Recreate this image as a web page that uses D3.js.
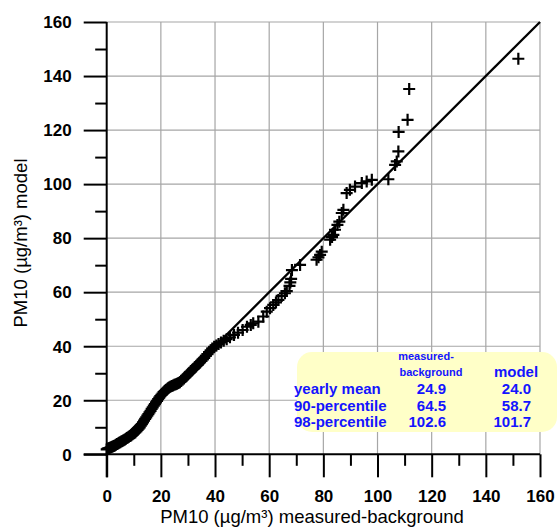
<!DOCTYPE html>
<html>
<head>
<meta charset="utf-8">
<script src="https://cdn.jsdelivr.net/npm/d3@7"></script>
<style>
  html, body { margin: 0; padding: 0; background: #ffffff; }
  svg { display: block; }
</style>
</head>
<body>
<svg id="chart" width="558" height="527"></svg>
<script>
// Quantile pairs: sorted measured-minus-background vs sorted model PM10 (µg/m³)
const measured = [
  0.0, 0.3, 0.6, 1.0, 1.4, 1.8, 2.2, 2.6, 3.0, 3.4,
  3.8, 4.2, 4.6, 5.0, 5.4, 5.8, 6.2, 6.6, 7.0, 7.4,
  7.8, 8.2, 8.6, 9.0, 9.4, 9.8, 10.2, 10.6, 11.0, 11.4,
  11.8, 12.2, 12.6, 13.0, 13.4, 13.8, 14.2, 14.6, 15.0, 15.4,
  15.8, 16.2, 16.6, 17.0, 17.4, 17.8, 18.2, 18.6, 19.0, 19.4,
  19.8, 20.2, 20.6, 21.0, 21.4, 21.8, 22.2, 22.6, 23.0, 23.5,
  24.0, 24.5, 25.0, 25.5, 26.0, 26.5, 27.0, 27.5, 28.0, 28.5,
  29.0, 29.5, 30.0, 30.5, 31.0, 31.5, 32.0, 32.5, 33.0, 33.5,
  34.0, 34.5, 35.0, 35.5, 36.0, 36.6, 37.2, 37.8, 38.4, 39.0,
  39.7, 40.5, 41.3, 42.2, 43.2, 44.3, 45.5, 47.0, 48.5, 50.2,
  51.8, 53.2, 54.1, 56.0, 57.8, 59.1, 60.3, 61.5, 62.5, 63.4,
  64.6, 65.8, 66.5, 67.5, 67.8, 68.1, 68.4, 71.4, 77.5, 78.2,
  78.8, 79.4, 82.5, 83.2, 83.7, 84.3, 85.2, 85.9, 86.8, 87.4,
  88.6, 89.8, 91.7, 94.2, 96.0, 97.9, 104.0, 106.5, 107.1, 107.7,
  107.8, 111.1, 111.7, 152.0
];
const model = [
  1.8, 2.0, 2.2, 2.3, 2.5, 2.7, 2.9, 3.1, 3.3, 3.5,
  3.8, 4.0, 4.3, 4.5, 4.7, 4.9, 5.2, 5.4, 5.7, 6.0,
  6.2, 6.5, 6.8, 7.0, 7.3, 7.6, 7.9, 8.2, 8.6, 9.0,
  9.5, 10.0, 10.6, 11.2, 11.8, 12.5, 13.1, 13.7, 14.3, 14.9,
  15.5, 16.1, 16.8, 17.4, 18.0, 18.6, 19.2, 19.8, 20.4, 21.0,
  21.5, 22.0, 22.5, 23.0, 23.4, 23.8, 24.1, 24.4, 24.7, 25.0,
  25.3, 25.5, 25.7, 25.9, 26.1, 26.4, 26.7, 27.1, 27.6, 28.1,
  28.6, 29.1, 29.6, 30.1, 30.6, 31.1, 31.6, 32.1, 32.6, 33.1,
  33.6, 34.1, 34.6, 35.1, 35.7, 36.4, 37.1, 37.8, 38.5, 39.2,
  39.8, 40.3, 40.8, 41.4, 42.0, 42.6, 43.3, 44.2, 45.0, 46.0,
  47.2, 47.9, 48.5, 49.1, 51.0, 52.8, 54.1, 55.3, 56.2, 57.1,
  58.6, 59.6, 60.4, 62.3, 63.6, 64.9, 68.2, 70.1, 72.0, 72.9,
  73.8, 75.0, 79.4, 80.4, 81.2, 83.1, 84.9, 86.1, 89.3, 90.5,
  96.7, 97.9, 99.1, 100.4, 101.0, 101.6, 101.8, 107.1, 108.4, 112.1,
  119.3, 123.8, 135.2, 146.4
];

// 1:1 reference line end points
const identityLine = [0, 160];

// Axis ticks
const majorTicks = [0, 20, 40, 60, 80, 100, 120, 140, 160];
const minorTicks = [10, 30, 50, 70, 90, 110, 130, 150];

// Summary statistics table
const statRows = ["yearly mean", "90-percentile", "98-percentile"];
const statMeasured = [24.9, 64.5, 102.6];
const statModel = [24.0, 58.7, 101.7];

const FONT = "'Liberation Sans', Arial, Helvetica, sans-serif";
const svg = d3.select("#chart");

const x = d3.scaleLinear().domain([0, 160]).range([106.7, 540]);
const y = d3.scaleLinear().domain([0, 160]).range([454.3, 22]);

const MAJOR = 23, MINOR = 11.5;

// Grid
const grid = svg.append("g").attr("stroke", "#a6a6a6").attr("stroke-width", 1.2);
grid.selectAll("line.gx").data(majorTicks.filter(d => d > 0)).join("line")
  .attr("class", "gx")
  .attr("x1", d => x(d)).attr("x2", d => x(d))
  .attr("y1", y(0)).attr("y2", y(160));
grid.selectAll("line.gy").data(majorTicks.filter(d => d > 0)).join("line")
  .attr("class", "gy")
  .attr("x1", x(0)).attr("x2", x(160))
  .attr("y1", d => y(d)).attr("y2", d => y(d));

function styleAxis(g) {
  g.select(".domain").remove();
  g.selectAll(".tick line").attr("stroke", "#000").attr("stroke-width", 2);
  g.selectAll(".tick text").attr("font-family", FONT).attr("font-size", 17)
    .attr("font-weight", "bold").attr("fill", "#000");
}

// X axis (major ticks with labels, then minor ticks)
const xAxis = svg.append("g").attr("transform", `translate(0,${y(0)})`)
  .call(d3.axisBottom(x).tickValues(majorTicks).tickSizeInner(MAJOR).tickSizeOuter(0)
    .tickPadding(13).tickFormat(d3.format("d")));
styleAxis(xAxis);
xAxis.selectAll(".tick line").attr("y2", MAJOR);
xAxis.selectAll(".tick text").attr("y", MAJOR + 13).attr("dy", "0.71em");

const xMinor = svg.append("g").attr("transform", `translate(0,${y(0)})`)
  .call(d3.axisBottom(x).tickValues(minorTicks).tickSizeInner(MINOR).tickSizeOuter(0).tickFormat(""));
styleAxis(xMinor);
xMinor.selectAll(".tick line").attr("y2", MINOR);

// Y axis
const yAxis = svg.append("g").attr("transform", `translate(${x(0)},0)`)
  .call(d3.axisLeft(y).tickValues(majorTicks).tickSizeInner(MAJOR).tickSizeOuter(0)
    .tickPadding(12).tickFormat(d3.format("d")));
styleAxis(yAxis);
yAxis.selectAll(".tick line").attr("x2", -MAJOR);
yAxis.selectAll(".tick text").attr("x", -35).attr("dy", "0.34em").attr("text-anchor", "end");

const yMinor = svg.append("g").attr("transform", `translate(${x(0)},0)`)
  .call(d3.axisLeft(y).tickValues(minorTicks).tickSizeInner(MINOR).tickSizeOuter(0).tickFormat(""));
styleAxis(yMinor);
yMinor.selectAll(".tick line").attr("x2", -MINOR);

// Axis lines
svg.append("line").attr("x1", x(0) - MAJOR).attr("x2", x(160))
  .attr("y1", y(0)).attr("y2", y(0)).attr("stroke", "#000").attr("stroke-width", 2);
svg.append("line").attr("x1", x(0)).attr("x2", x(0))
  .attr("y1", y(0) + MAJOR).attr("y2", y(160)).attr("stroke", "#000").attr("stroke-width", 2);

// Axis titles
svg.append("text")
  .attr("x", 312).attr("y", 523)
  .attr("text-anchor", "middle")
  .attr("font-family", FONT).attr("font-size", 18.5).attr("fill", "#000")
  .text("PM10 (µg/m³) measured-background");
svg.append("text")
  .attr("transform", "translate(27,243) rotate(-90)")
  .attr("text-anchor", "middle")
  .attr("font-family", FONT).attr("font-size", 18.5).attr("fill", "#000")
  .text("PM10 (µg/m³) model");

// 1:1 line
svg.append("line")
  .attr("x1", x(identityLine[0])).attr("y1", y(identityLine[0]))
  .attr("x2", x(identityLine[1])).attr("y2", y(identityLine[1]))
  .attr("stroke", "#000").attr("stroke-width", 2.3);

// Plus markers
const h = 6;
const pts = measured.map((m, i) => [m, model[i]]);
const marks = svg.append("g").attr("stroke", "#000").attr("stroke-width", 2.2);
marks.selectAll("path").data(pts).join("path")
  .attr("d", d => {
    const cx = x(d[0]), cy = y(d[1]);
    return `M${cx - h},${cy}H${cx + h}M${cx},${cy - h}V${cy + h}`;
  });

// Statistics box
const box = svg.append("g");
box.append("rect")
  .attr("x", 297).attr("y", 352).attr("width", 260).attr("height", 80)
  .attr("rx", 15).attr("ry", 15)
  .attr("fill", "#ffffc8");
const blue = "#1414ff";
box.append("text").attr("x", 426).attr("y", 360).attr("text-anchor", "middle")
  .attr("font-family", FONT).attr("font-size", 11).attr("font-weight", "bold").attr("fill", blue)
  .text("measured-");
box.append("text").attr("x", 431).attr("y", 376).attr("text-anchor", "middle")
  .attr("font-family", FONT).attr("font-size", 11).attr("font-weight", "bold").attr("fill", blue)
  .text("background");
box.append("text").attr("x", 516).attr("y", 377).attr("text-anchor", "middle")
  .attr("font-family", FONT).attr("font-size", 15).attr("font-weight", "bold").attr("fill", blue)
  .text("model");
const rowY = [394, 410.5, 426.5];
statRows.forEach((label, i) => {
  box.append("text").attr("x", 294).attr("y", rowY[i])
    .attr("font-family", FONT).attr("font-size", 15).attr("font-weight", "bold").attr("fill", blue)
    .text(label);
  box.append("text").attr("x", 446).attr("y", rowY[i]).attr("text-anchor", "end")
    .attr("font-family", FONT).attr("font-size", 15).attr("font-weight", "bold").attr("fill", blue)
    .text(statMeasured[i].toFixed(1));
  box.append("text").attr("x", 531).attr("y", rowY[i]).attr("text-anchor", "end")
    .attr("font-family", FONT).attr("font-size", 15).attr("font-weight", "bold").attr("fill", blue)
    .text(statModel[i].toFixed(1));
});
</script>
</body>
</html>
